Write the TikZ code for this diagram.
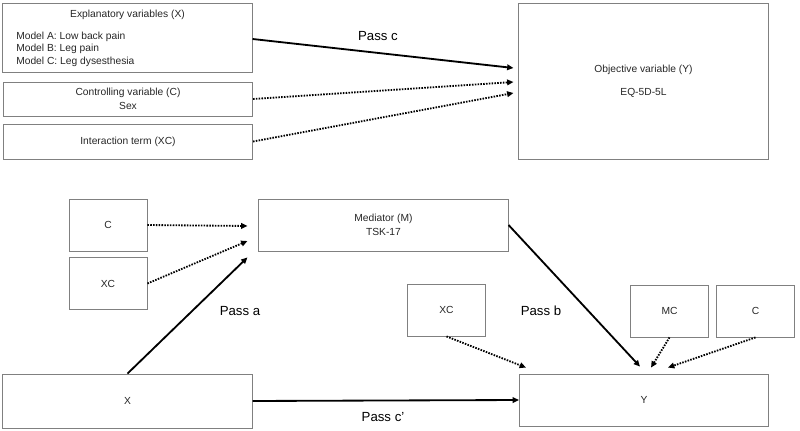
\documentclass[tikz,border=0pt]{standalone}
\usepackage{fontspec}
\setmainfont{Liberation Sans}
\usetikzlibrary{arrows.meta,calc,positioning}
\newcommand{\boxfont}{\fontsize{7.3}{9.6}\selectfont}
\newcommand{\passfont}{\fontsize{9.4}{11}\selectfont}

\begin{document}
\begin{tikzpicture}[
        x=0.025cm, y=-0.025cm,
        box/.style={draw=black!50, line width=0.6pt, align=center, inner sep=0pt, minimum width=6.23cm, font=\boxfont, text=black!85},
        smallbox/.style={box, minimum width=1.95cm, minimum height=1.3cm},
        boxtext/.style={font=\boxfont, text=black!85, inner sep=0pt},
        solidarrow/.style={line width=1.3pt, -{Triangle[length=4.5pt,width=4pt]}},
        dotarrow/.style={line width=1.3pt, dash pattern=on 1.1pt off 0.9pt, -{Triangle[length=4.5pt,width=4pt]}},
        passlabel/.style={font=\passfont, inner sep=0pt}
    ]
        \useasboundingbox (0,0) rectangle (800,431);

        % upper model: total effect
        \node[box, minimum height=1.725cm] (expl) at (127.5,37.5) {};
        \node[boxtext] (expltitle) at (127.5,15) {Explanatory variables (X)};
        \node[boxtext, anchor=west, align=left, font=\fontsize{7.3}{8.9}\selectfont] (models) at (16,49)
            {Model A: Low back pain\\Model B: Leg pain\\Model C: Leg dysesthesia};
        \node[box, minimum height=0.85cm] (ctrl) at (128,99) {Controlling variable (C)\\Sex};
        \node[box, minimum height=0.875cm] (inter) at (128,141.5) {Interaction term (XC)};
        \node[box, minimum height=3.9cm] (obj) at (643.5,81) {Objective variable (Y)\\[7pt]EQ-5D-5L};

        \draw[solidarrow] (expl.east |- 0,39) -- ($(obj.west)+(-5,-13)$);
        \draw[dotarrow] (ctrl.east) -- ($(obj.west)+(-5,1)$);
        \draw[dotarrow] (inter.east) -- ($(obj.west)+(-5,12)$);
        \node[passlabel] (passc) at (378,36) {Pass c};

        % lower model: mediation
        \node[smallbox] (cL) at (108,225) {C};
        \node[smallbox] (xcL) at (108,283.5) {XC};
        \node[box, minimum height=1.3cm] (med) at (383.5,225) {Mediator (M)\\TSK-17};
        \node[smallbox] (xcR) at (446.5,310) {XC};
        \node[smallbox] (mc) at (669.5,311) {MC};
        \node[smallbox] (cR) at (755.5,311) {C};
        \node[box, minimum height=1.3cm] (Y) at (644,400) {Y};
        \node[box, minimum height=1.35cm] (X) at (127.5,401) {X};

        \draw[dotarrow] (cL.east) -- ($(med.west)+(-11,1)$);
        \draw[dotarrow] (xcL.east) -- ($(med.west)+(-11,16)$);
        \draw[solidarrow] (X.north) -- ($(med.south west)+(-11,6)$);
        \draw[solidarrow] (med.east) -- ($(Y.north)+(-4,-7)$);
        \draw[dotarrow] (xcR.south) -- ($(Y.north west)+(7,-6)$);
        \draw[dotarrow] (mc.south) -- ($(Y.north)+(7,-6)$);
        \draw[dotarrow] (cR.south) -- ($(Y.north)+(24,-6)$);
        \draw[solidarrow] (X.east) -- (Y.west);

        \node[passlabel] (passa) at (240,311) {Pass a};
        \node[passlabel] (passb) at (541,311) {Pass b};
        \node[passlabel] (passcp) at (383,417) {Pass c'};
    \end{tikzpicture}
\end{document}
